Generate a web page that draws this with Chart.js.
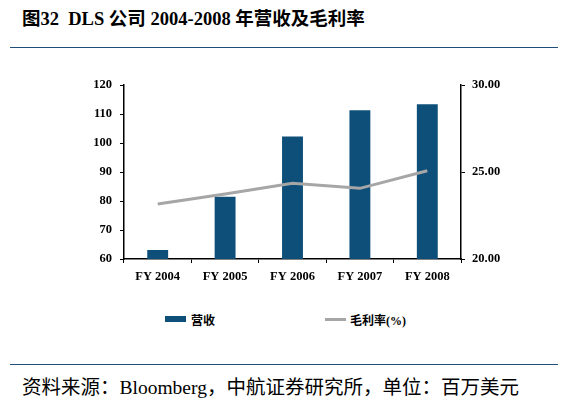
<!DOCTYPE html>
<html>
<head>
<meta charset="utf-8">
<script src="https://cdn.jsdelivr.net/npm/chart.js@4/dist/chart.umd.min.js"></script>
<style>
    body { margin: 0; width: 564px; height: 399px; background: #fff; position: relative; overflow: hidden; }
    #title { position: absolute; left: 22px; top: 4px; font: bold 18.5px "Liberation Serif", "Noto Sans CJK SC", serif; color: #000; white-space: nowrap; }
    .rule { position: absolute; left: 10px; width: 548px; height: 1px; background: #1f4e79; }
    #source { position: absolute; left: 22px; top: 371px; font: 19.5px "Liberation Serif", "Noto Sans CJK SC", serif; color: #000; white-space: nowrap; }
    #wrap { position: absolute; left: 0; top: 0; width: 564px; height: 300px; }
    .lg { position: absolute; top: 311px; font: bold 12px "Liberation Serif", "Noto Sans CJK SC", serif; color: #000; white-space: nowrap; }
    .sw { position: absolute; }
</style>
</head>
<body>
<div id="title">图32&nbsp; DLS 公司 2004-2008 年营收及毛利率</div>
<div class="rule" style="top:47px"></div>
<div id="wrap"><canvas id="chart"></canvas></div>
<div id="legend"></div>
<div class="rule" style="top:364px"></div>
<div id="source">资料来源：Bloomberg，中航证券研究所，单位：百万美元</div>
<script>
// 年份
const years = ['FY 2004', 'FY 2005', 'FY 2006', 'FY 2007', 'FY 2008'];
// 营收（百万美元）
const revenue = [63.1, 81.5, 102.2, 111.3, 113.4];
// 毛利率(%)
const grossMargin = [23.16, 23.74, 24.35, 24.06, 25.07];

const barColor = '#0d4f78';
const lineColor = '#a6a6a6';
const tickFont = { family: '"Liberation Serif", serif', size: 12.5, weight: 'bold' };

// 图例（放在图表下方）
const legend = document.getElementById('legend');
legend.innerHTML = `
    <div class="sw" style="left:165px;top:316px;width:21px;height:6px;background:${barColor}"></div>
    <div class="lg" style="left:191px">营收</div>
    <div class="sw" style="left:325px;top:318px;width:21px;height:3px;background:${lineColor}"></div>
    <div class="lg" style="left:350px">毛利率(%)</div>
`;

// 初始化图表
const ctx = document.getElementById('chart').getContext('2d');
new Chart(ctx, {
    data: {
        labels: years,
        datasets: [{
            type: 'line',
            label: '毛利率(%)',
            data: grossMargin,
            yAxisID: 'y1',
            borderColor: lineColor,
            borderWidth: 3,
            pointRadius: 0,
            tension: 0,
            order: 0
        }, {
            type: 'bar',
            label: '营收',
            data: revenue,
            yAxisID: 'y',
            backgroundColor: barColor,
            barPercentage: 0.31,
            categoryPercentage: 1,
            order: 1
        }]
    },
    options: {
        responsive: true,
        maintainAspectRatio: false,
        animation: false,
        layout: { padding: { top: 85, left: 0, right: 0, bottom: 1 } },
        plugins: {
            tooltip: { enabled: false },
            legend: { display: false }
        },
        scales: {
            x: {
                grid: { display: true, drawOnChartArea: false, tickLength: 4, color: '#000' },
                border: { color: '#000', width: 1.5 },
                ticks: { color: '#000', font: tickFont, padding: 6 },
                afterFit: s => { s.height = 40; }
            },
            y: {
                position: 'left',
                min: 60, max: 120,
                ticks: { stepSize: 10, autoSkip: false, color: '#000', font: tickFont, padding: 8 },
                grid: { display: true, drawOnChartArea: false, tickLength: 4, color: '#000' },
                border: { color: '#000', width: 1.5 },
                afterFit: s => { s.width = 124; }
            },
            y1: {
                position: 'right',
                min: 20, max: 30,
                ticks: { stepSize: 5, color: '#000', font: tickFont, padding: 7,
                    callback: v => v.toFixed(2) },
                grid: { display: true, drawOnChartArea: false, tickLength: 4, color: '#000' },
                border: { color: '#000', width: 1.5 },
                afterFit: s => { s.width = 103; }
            }
        }
    }
});
</script>
</body>
</html>
